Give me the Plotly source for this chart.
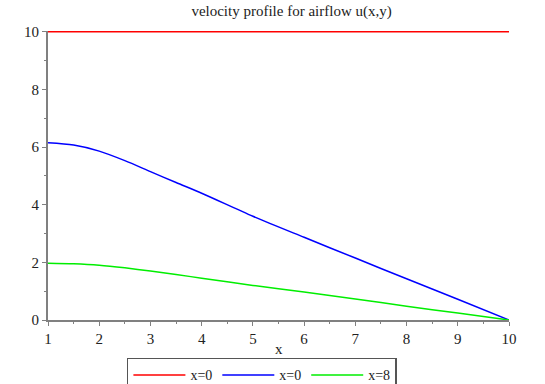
import plotly.graph_objects as go

x_vals = [1, 1.5, 2, 2.5, 3, 3.5, 4, 5, 6, 7, 8, 9, 10]
red_vals = [10] * len(x_vals)
blue_vals = [6.15, 6.07, 5.86, 5.53, 5.15, 4.77, 4.4, 3.6, 2.87, 2.15, 1.43, 0.72, 0.0]
green_vals = [1.97, 1.95, 1.9, 1.81, 1.7, 1.58, 1.45, 1.2, 0.97, 0.73, 0.48, 0.24, 0.0]
names = ["x=0", "x=0", "x=8"]
colors = ["#ff0000", "#0000ff", "#00ee00"]

fig = go.Figure()
for ys, nm, c in zip([red_vals, blue_vals, green_vals], names, colors):
    fig.add_trace(go.Scatter(x=x_vals, y=ys, name=nm, mode="lines",
                             line=dict(color=c, width=1.5, shape="spline", smoothing=0.8)))

fnt = dict(family="Liberation Serif", size=15, color="#222")
lfnt = dict(family="Liberation Serif", size=14, color="#222")
fig.update_layout(
    width=545, height=384,
    margin=dict(l=48, r=36, t=31, b=64, autoexpand=False),
    paper_bgcolor="white", plot_bgcolor="white",
    font=fnt,
    title=dict(text="velocity profile for airflow u(x,y)", x=0.535, xanchor="center",
               y=0.985, yanchor="top", font=fnt),
    showlegend=True,
    legend=dict(orientation="h", x=0.464, xanchor="center", y=-0.131, yanchor="top",
                bordercolor="#555", borderwidth=1.5, font=lfnt,
                tracegroupgap=0, itemwidth=52),
    annotations=[dict(text="x", xref="paper", yref="paper", x=0.5, y=-0.1,
                      xanchor="center", yanchor="middle", showarrow=False, font=fnt)],
)
fig.update_xaxes(range=[1, 10], tickvals=list(range(1, 11)), showgrid=False, zeroline=False,
                 showline=True, linecolor="#808080", linewidth=2,
                 ticks="outside", ticklen=4, tickcolor="#808080",
                 minor=dict(tickvals=[i + 0.5 for i in range(1, 10)], ticks="outside", ticklen=2, tickcolor="#808080"))
fig.update_yaxes(range=[0, 10.03], tickvals=[0, 2, 4, 6, 8, 10], showgrid=False, zeroline=False,
                 showline=True, linecolor="#808080", linewidth=2,
                 ticks="outside", ticklen=4, tickcolor="#808080",
                 minor=dict(tickvals=[1, 3, 5, 7, 9], ticks="outside", ticklen=2, tickcolor="#808080"))

fig.write_html("out.html")
